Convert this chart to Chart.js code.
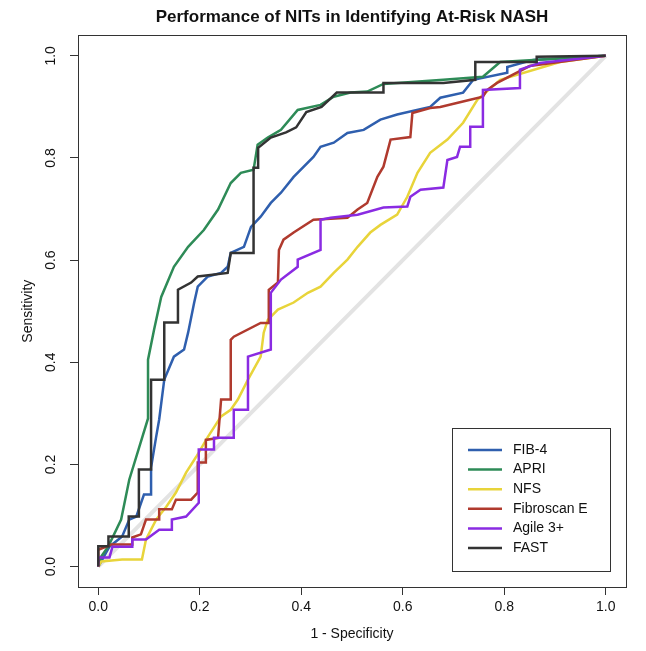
<!DOCTYPE html>
<html>
<head>
<meta charset="utf-8">
<script src="https://cdn.jsdelivr.net/npm/chart.js@4/dist/chart.umd.min.js"></script>
<style>
html, body { margin: 0; padding: 0; background: #fff; }
</style>
</head>
<body>
<canvas id="rocChart" width="646" height="651"></canvas>
<script>
// ROC curves: x = 1 - specificity, y = sensitivity
var seriesNames = ['FIB-4', 'APRI', 'NFS', 'Fibroscan E', 'Agile 3+', 'FAST'];
var seriesColors = ['#2f5fae', '#2e8b57', '#e8d43a', '#b03a2e', '#8a2be2', '#333333'];
var tickVals = [0, 0.2, 0.4, 0.6, 0.8, 1.0];

var diagX = [0, 1];
var diagY = [0, 1];

var fib4X = [0, 0.008, 0.022, 0.047, 0.061, 0.075, 0.090, 0.104, 0.104, 0.114, 0.120, 0.130, 0.149, 0.169, 0.177, 0.189, 0.196, 0.216, 0.242, 0.255, 0.261, 0.287, 0.301, 0.320, 0.340, 0.360, 0.385, 0.424, 0.438, 0.464, 0.491, 0.523, 0.556, 0.589, 0.654, 0.674, 0.719, 0.739, 0.806, 0.806, 0.857, 1];
var fib4Y = [0, 0.014, 0.039, 0.059, 0.092, 0.098, 0.141, 0.141, 0.194, 0.254, 0.288, 0.366, 0.411, 0.425, 0.458, 0.517, 0.548, 0.568, 0.575, 0.587, 0.614, 0.626, 0.665, 0.685, 0.712, 0.732, 0.763, 0.802, 0.822, 0.830, 0.849, 0.855, 0.875, 0.885, 0.900, 0.918, 0.928, 0.953, 0.967, 0.978, 0.992, 1];

var apriX = [0, 0.006, 0.020, 0.045, 0.061, 0.081, 0.098, 0.098, 0.110, 0.124, 0.149, 0.177, 0.208, 0.236, 0.261, 0.281, 0.306, 0.314, 0.334, 0.360, 0.393, 0.438, 0.464, 0.497, 0.530, 0.562, 0.680, 0.758, 0.792, 1];
var apriY = [0, 0.020, 0.040, 0.092, 0.170, 0.235, 0.290, 0.405, 0.464, 0.528, 0.587, 0.626, 0.659, 0.699, 0.751, 0.771, 0.777, 0.826, 0.840, 0.855, 0.894, 0.904, 0.920, 0.928, 0.930, 0.945, 0.953, 0.959, 0.988, 1];

var nfsX = [0, 0.006, 0.047, 0.086, 0.094, 0.114, 0.134, 0.153, 0.173, 0.193, 0.216, 0.242, 0.261, 0.275, 0.295, 0.320, 0.326, 0.334, 0.354, 0.385, 0.413, 0.438, 0.464, 0.491, 0.511, 0.536, 0.556, 0.589, 0.609, 0.629, 0.654, 0.688, 0.719, 0.747, 0.792, 0.910, 1];
var nfsY = [0, 0.010, 0.014, 0.014, 0.053, 0.092, 0.117, 0.145, 0.184, 0.215, 0.254, 0.294, 0.307, 0.327, 0.366, 0.411, 0.458, 0.483, 0.503, 0.517, 0.536, 0.548, 0.575, 0.601, 0.626, 0.654, 0.669, 0.689, 0.724, 0.771, 0.810, 0.836, 0.869, 0.914, 0.953, 0.988, 1];

var fibroX = [0, 0, 0.026, 0.067, 0.067, 0.084, 0.094, 0.120, 0.120, 0.145, 0.153, 0.183, 0.196, 0.196, 0.212, 0.212, 0.236, 0.242, 0.261, 0.261, 0.267, 0.320, 0.336, 0.336, 0.354, 0.356, 0.365, 0.385, 0.424, 0.491, 0.511, 0.530, 0.550, 0.562, 0.576, 0.615, 0.619, 0.654, 0.674, 0.733, 0.758, 0.766, 0.786, 0.850, 1];
var fibroY = [0, 0.033, 0.043, 0.043, 0.057, 0.063, 0.092, 0.092, 0.112, 0.112, 0.131, 0.131, 0.145, 0.204, 0.204, 0.248, 0.252, 0.327, 0.327, 0.444, 0.450, 0.477, 0.477, 0.542, 0.556, 0.620, 0.640, 0.654, 0.679, 0.683, 0.699, 0.712, 0.763, 0.783, 0.836, 0.841, 0.888, 0.898, 0.900, 0.914, 0.920, 0.933, 0.947, 0.980, 1];

var agileX = [0, 0, 0.022, 0.028, 0.067, 0.067, 0.094, 0.120, 0.145, 0.145, 0.173, 0.198, 0.198, 0.228, 0.228, 0.267, 0.267, 0.295, 0.295, 0.340, 0.340, 0.360, 0.393, 0.393, 0.438, 0.438, 0.458, 0.511, 0.562, 0.609, 0.615, 0.635, 0.680, 0.688, 0.707, 0.713, 0.733, 0.733, 0.758, 0.758, 0.831, 0.831, 0.845, 0.870, 1];
var agileY = [0, 0.018, 0.018, 0.039, 0.039, 0.053, 0.053, 0.072, 0.072, 0.092, 0.098, 0.125, 0.229, 0.229, 0.252, 0.252, 0.307, 0.307, 0.411, 0.425, 0.536, 0.562, 0.587, 0.601, 0.620, 0.679, 0.683, 0.689, 0.703, 0.705, 0.724, 0.738, 0.742, 0.796, 0.802, 0.822, 0.822, 0.861, 0.861, 0.933, 0.937, 0.973, 0.978, 0.986, 1];

var fastX = [0, 0, 0.020, 0.020, 0.060, 0.060, 0.080, 0.080, 0.104, 0.104, 0.130, 0.130, 0.157, 0.157, 0.183, 0.196, 0.255, 0.261, 0.306, 0.306, 0.315, 0.315, 0.340, 0.370, 0.390, 0.410, 0.440, 0.470, 0.562, 0.562, 0.680, 0.743, 0.743, 0.864, 0.864, 1];
var fastY = [0, 0.040, 0.040, 0.059, 0.059, 0.098, 0.098, 0.190, 0.190, 0.366, 0.366, 0.478, 0.478, 0.542, 0.556, 0.568, 0.575, 0.614, 0.614, 0.781, 0.781, 0.820, 0.840, 0.850, 0.860, 0.890, 0.900, 0.928, 0.928, 0.947, 0.947, 0.953, 0.988, 0.988, 0.998, 1];

var curveX = [fib4X, apriX, nfsX, fibroX, agileX, fastX];
var curveY = [fib4Y, apriY, nfsY, fibroY, agileY, fastY];

var FONT = '"Liberation Sans", Arial, Helvetica, sans-serif';

function toPoints(xs, ys) {
    var pts = [];
    for (var i = 0; i < Math.min(xs.length, ys.length); i++) {
        pts.push({ x: xs[i], y: ys[i] });
    }
    return pts;
}

var datasets = [{
    label: 'chance',
    data: toPoints(diagX, diagY),
    borderColor: '#e3e3e3',
    borderWidth: 4,
    order: 10
}];
seriesNames.forEach(function(name, i) {
    datasets.push({
        label: name,
        data: toPoints(curveX[i], curveY[i]),
        borderColor: seriesColors[i],
        borderWidth: 2.5,
        order: 6 - i // FAST drawn last, on top
    });
});

// box round the plot region, like R's bty = "o"
var frame = {
    id: 'frame',
    afterDatasetsDraw: function(chart) {
        var a = chart.chartArea, ctx = chart.ctx;
        ctx.save();
        ctx.strokeStyle = '#333';
        ctx.lineWidth = 1;
        ctx.strokeRect(Math.round(a.left) + 0.5, Math.round(a.top) + 0.5, Math.round(a.right - a.left), Math.round(a.bottom - a.top));
        ctx.restore();
    }
};

// legend box in the lower right corner of the plot
var boxLegend = {
    id: 'boxLegend',
    afterDraw: function(chart) {
        var a = chart.chartArea, ctx = chart.ctx;
        var w = 158, h = 143;
        var x0 = Math.round(a.right - 16 - w), y0 = Math.round(a.bottom - 16 - h);
        ctx.save();
        ctx.fillStyle = '#fff';
        ctx.fillRect(x0, y0, w, h);
        ctx.strokeStyle = '#333';
        ctx.lineWidth = 1;
        ctx.strokeRect(x0 + 0.5, y0 + 0.5, w, h);
        ctx.font = '14px ' + FONT;
        ctx.textBaseline = 'middle';
        ctx.textAlign = 'left';
        seriesNames.forEach(function(name, i) {
            var y = y0 + 22 + i * 19.6;
            ctx.strokeStyle = seriesColors[i];
            ctx.lineWidth = 2.5;
            ctx.beginPath();
            ctx.moveTo(x0 + 16, y);
            ctx.lineTo(x0 + 50, y);
            ctx.stroke();
            ctx.fillStyle = '#111';
            ctx.fillText(name, x0 + 61, y);
        });
        ctx.restore();
    }
};

function fixedTicks(scale) {
    scale.ticks = tickVals.map(function(v) { return { value: v }; });
}

var rocChart = new Chart(document.getElementById('rocChart').getContext('2d'), {
    type: 'scatter',
    data: { datasets: datasets },
    options: {
        responsive: false,
        animation: false,
        showLine: true,
        elements: { point: { radius: 0 }, line: { tension: 0, fill: false } },
        layout: { padding: { left: 0, right: 20, top: 0, bottom: 0 } },
        plugins: {
            legend: { display: false },
            tooltip: { enabled: false },
            title: {
                display: true,
                fullSize: false, // centre over the plot, not the canvas
                text: 'Performance of NITs in Identifying At-Risk NASH',
                color: '#111',
                font: { family: FONT, size: 17, weight: 'bold' },
                padding: { top: 7, bottom: 8 }
            }
        },
        scales: {
            x: {
                type: 'linear',
                min: -0.04,
                max: 1.04,
                afterBuildTicks: fixedTicks,
                afterFit: function(s) { s.height = 64; },
                grid: { drawOnChartArea: false, drawTicks: true, tickLength: 8, color: '#333' },
                border: { display: true, color: '#333' },
                ticks: {
                    autoSkip: false, maxRotation: 0, padding: 4, color: '#111',
                    font: { family: FONT, size: 14 },
                    callback: function(v) { return v.toFixed(1); }
                },
                title: {
                    display: true, text: '1 - Specificity', color: '#111',
                    font: { family: FONT, size: 14 },
                    padding: { top: 0, bottom: 8 }
                }
            },
            y: {
                type: 'linear',
                min: -0.04,
                max: 1.04,
                afterBuildTicks: fixedTicks,
                afterFit: function(s) { s.width = 78; },
                grid: { drawOnChartArea: false, drawTicks: true, tickLength: 8, color: '#333' },
                border: { display: true, color: '#333' },
                ticks: {
                    autoSkip: false, minRotation: 90, maxRotation: 90, crossAlign: 'center', padding: 9, color: '#111',
                    font: { family: FONT, size: 14 },
                    callback: function(v) { return v.toFixed(1); }
                },
                title: {
                    display: true, text: 'Sensitivity', color: '#111',
                    font: { family: FONT, size: 14 },
                    padding: { top: 20, bottom: 0 }
                }
            }
        }
    },
    plugins: [frame, boxLegend]
});
</script>
</body>
</html>
